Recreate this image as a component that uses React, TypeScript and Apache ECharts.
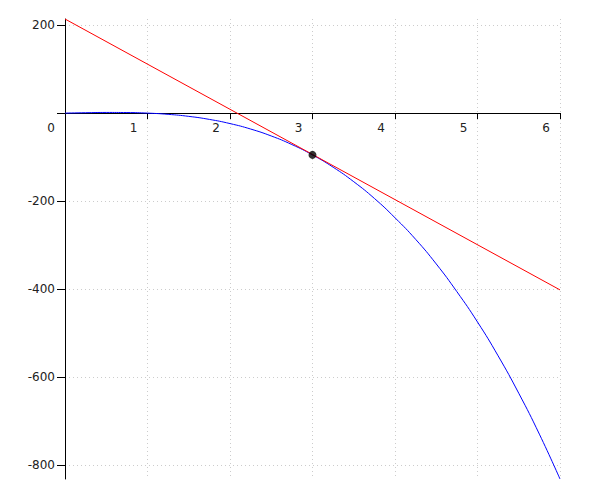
import React, { useEffect, useRef } from "react";
import * as echarts from "echarts";

const curveX = [0, 0.25, 0.5, 0.75, 1, 1.25, 1.5, 1.75, 2, 2.25, 2.5, 2.75, 3, 3.25, 3.5, 3.75, 4, 4.25, 4.5, 4.75, 5, 5.25, 5.5, 5.75, 6];
const curveY = [0, 0.9, 1.5, 1.3, 0, -2.8, -7.4, -14.3, -23.8, -36.2, -52, -71.5, -95, -123, -156, -194, -238, -287, -343, -406, -475, -552, -637, -730, -832];
const tangentX = [0, 6];
const tangentY = [214, -402];
const pointX = [3];
const pointY = [-95];
const yTickValues = [200, 0, -200, -400, -600, -800];
const yLabelValues = [200, -200, -400, -600, -800];

export default function App() {
  const ref = useRef<HTMLDivElement>(null);
  useEffect(() => {
    if (!ref.current) return;
    const chart = echarts.init(ref.current, null, { renderer: "svg" });
    const font = { fontFamily: "DejaVu Sans", fontSize: 12, color: "#222" };
    const grid = { color: "#cccccc", width: 1, type: [1, 3] as any };
    chart.setOption({
      animation: false,
      grid: { left: 65, right: 40, top: 19, bottom: 21, containLabel: false },
      xAxis: {
        type: "value",
        min: 0,
        max: 6,
        interval: 1,
        position: "bottom",
        offset: -366,
        axisLine: { onZero: false, lineStyle: { color: "#000", width: 1 } },
        axisTick: { show: true, length: 6, inside: false, lineStyle: { color: "#000" } },
        axisLabel: {
          ...font,
          margin: 9,
          align: "right",
          padding: [0, 10, 0, 0],
          showMinLabel: true,
          showMaxLabel: true,
        },
        splitLine: { show: true, lineStyle: grid },
      },
      yAxis: {
        type: "value",
        min: -832,
        max: 214,
        axisLine: { show: true, onZero: false, lineStyle: { color: "#000", width: 1 } },
        axisTick: { show: true, length: 8, customValues: yTickValues, lineStyle: { color: "#000" } },
        axisLabel: { ...font, margin: 10, customValues: yLabelValues },
        splitLine: { show: true, lineStyle: grid },
      },
      series: [
        {
          type: "line",
          data: curveX.map((x, i) => [x, curveY[i]]),
          showSymbol: false,
          smooth: true,
          lineStyle: { color: "#0000ff", width: 1 },
          z: 2,
        },
        {
          type: "line",
          data: tangentX.map((x, i) => [x, tangentY[i]]),
          showSymbol: false,
          lineStyle: { color: "#ff0000", width: 1 },
          z: 3,
        },
        {
          type: "scatter",
          data: pointX.map((x, i) => [x, pointY[i]]),
          symbolSize: 8,
          itemStyle: { color: "#000" },
          z: 4,
        },
      ],
    });
    return () => chart.dispose();
  }, []);
  return (
    <div
      ref={ref}
      style={{ position: "absolute", left: 0, top: 0, width: 600, height: 500 }}
    />
  );
}
